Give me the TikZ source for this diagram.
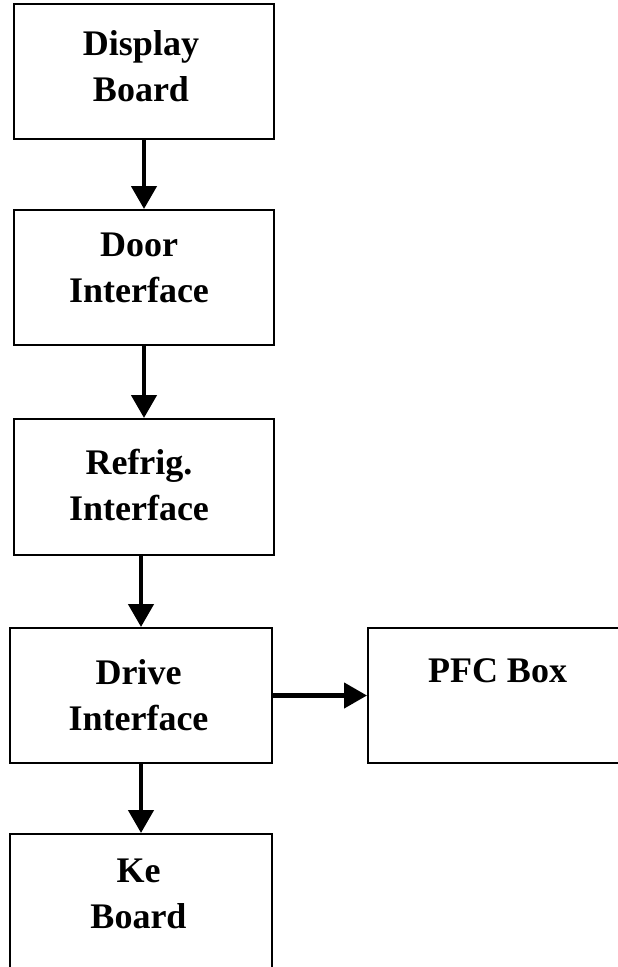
\documentclass[tikz,border=0pt]{standalone}
\usepackage{fontspec}
\setmainfont{Liberation Serif}
\usetikzlibrary{arrows.meta}
\begin{document}
\begin{tikzpicture}[x=1bp,y=-1bp,
  blk/.style={draw=black, line width=2bp, rectangle, inner sep=0pt},
  lbl/.style={font=\fontsize{36bp}{46bp}\selectfont\bfseries, align=center, inner sep=0pt, anchor=north},
  arr/.style={line width=4.5bp, -{Triangle[length=23bp,width=25bp]}}]
\useasboundingbox (0,0) rectangle (618,967);
\clip (0,0) rectangle (618,967);
% boxes
\node[blk, minimum width=260bp, minimum height=135bp] (disp) at (144,71.5) {};
\node[blk, minimum width=260bp, minimum height=135bp] (door) at (144,277.5) {};
\node[blk, minimum width=260bp, minimum height=136bp] (refr) at (144,487) {};
\node[blk, minimum width=262bp, minimum height=135bp] (drive) at (141,695.5) {};
\node[blk, minimum width=259bp, minimum height=135bp] (pfc) at (497.5,695.5) {};
\node[blk, minimum width=262bp, minimum height=135bp] (ke) at (141,901.5) {};
% labels
\node[lbl] (disptxt) at (141,30.7) {Display\\Board};
\node[lbl] (doortxt) at (139,232.7) {Door\\Interface};
\node[lbl] (refrtxt) at (139,448.7) {Refrig.\\Interface};
\node[lbl] (drivetxt) at (138.5,659.7) {Drive\\Interface};
\node[lbl] (pfctxt) at (497.5,658.7) {PFC Box};
\node[lbl] (ketxt) at (138.5,858.7) {Ke\\Board};
% arrows
\draw[arr] (disp.south) -- (door.north);
\draw[arr] (door.south) -- (refr.north);
\draw[arr] (drive.north |- refr.south) -- (drive.north);
\draw[arr] (drive.south) -- (ke.north);
\draw[arr] (drive.east) -- (pfc.west);
\end{tikzpicture}
\end{document}
